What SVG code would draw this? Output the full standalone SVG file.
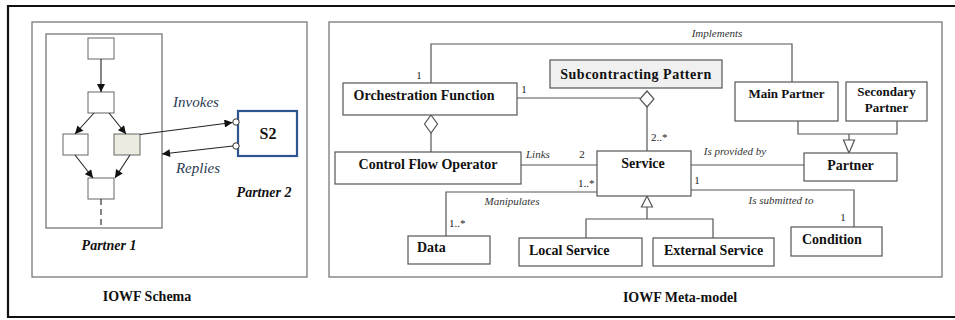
<svg xmlns="http://www.w3.org/2000/svg" width="955" height="320" viewBox="0 0 955 320" font-family="'Liberation Serif', 'Times New Roman', Times, serif">
  <defs>
    <marker id="arrow" viewBox="0 0 10 10" refX="10" refY="5" markerWidth="9" markerHeight="8" markerUnits="userSpaceOnUse" orient="auto">
      <path d="M0,0 L10,5 L0,10 Z" fill="#111"/>
    </marker>
    <style>
      text { font-family: 'Liberation Serif', 'Times New Roman', Times, serif; }
      .frame { fill: none; stroke: #111; stroke-width: 2.2; }
      .panel { fill: #fff; stroke: #777; stroke-width: 1.3; }
      .box { fill: #fff; stroke: #555; stroke-width: 1.2; }
      .shaded { fill: #f0f0f0; stroke: #555; stroke-width: 1.2; }
      .task { fill: #fff; stroke: #666; stroke-width: 1; }
      .link { fill: none; stroke: #555; stroke-width: 1.2; }
      .flow { fill: none; stroke: #222; stroke-width: 1.1; }
      .hollow { fill: #fff; stroke: #555; stroke-width: 1.2; }
      .name { font-weight: bold; font-size: 14px; fill: #111; }
      .title { font-weight: bold; font-size: 14px; fill: #111; }
      .role { font-style: italic; font-size: 11px; fill: #333; }
      .mult { font-size: 11px; fill: #222; }
      .msg { font-style: italic; font-size: 15px; fill: #2c3b52; }
      .lane { font-style: italic; font-weight: bold; font-size: 14px; fill: #111; }
    </style>
  </defs>

  <rect width="955" height="320" fill="#fff"/>

  <!-- outer frame: open on the right -->
  <path class="frame" d="M955,6 H8 V317 H955"/>

  <!-- ===== IOWF Schema ===== -->
  <g id="schema">
    <rect class="panel" x="32" y="22" width="275" height="255"/>
    <g id="partner1">
      <rect class="panel" x="46" y="34" width="116" height="194"/>
      <text class="lane" x="109" y="250" text-anchor="middle">Partner 1</text>
    </g>
    <g id="task-top"><rect class="task" x="88" y="38" width="26" height="21"/></g>
    <g id="task-split"><rect class="task" x="88" y="92" width="26" height="21"/></g>
    <g id="task-left"><rect class="task" x="63" y="134" width="25" height="21"/></g>
    <g id="task-remote"><rect class="task" x="114" y="134" width="26" height="21" style="fill:#ecebe0"/></g>
    <g id="task-join"><rect class="task" x="88" y="178" width="26" height="21"/></g>

    <g id="s2">
      <rect x="238" y="111" width="59" height="45" fill="#fff" stroke="#2e5590" stroke-width="2.2"/>
      <text class="name" x="268" y="139" text-anchor="middle" style="font-size:16px">S2</text>
      <circle cx="236" cy="122" r="3.2" fill="#fff" stroke="#333" stroke-width="1"/>
      <circle cx="236" cy="146" r="3.2" fill="#fff" stroke="#333" stroke-width="1"/>
    </g>
    <text class="lane" x="264" y="197" text-anchor="middle">Partner 2</text>

    <g id="schema-flows">
      <line class="flow" x1="101" y1="59" x2="101" y2="92" marker-end="url(#arrow)"/>
      <line class="flow" x1="94" y1="113" x2="75" y2="134" marker-end="url(#arrow)"/>
      <line class="flow" x1="109" y1="113" x2="126" y2="134" marker-end="url(#arrow)"/>
      <line class="flow" x1="75" y1="155" x2="93" y2="178" marker-end="url(#arrow)"/>
      <line class="flow" x1="130" y1="155" x2="115" y2="178" marker-end="url(#arrow)"/>
      <line class="flow" x1="101" y1="199" x2="101" y2="228" stroke-dasharray="6,4"/>
      <line class="flow" x1="140" y1="134.5" x2="232.5" y2="122.5" marker-end="url(#arrow)"/>
      <line class="flow" x1="233" y1="146" x2="162" y2="154" marker-end="url(#arrow)"/>
    </g>
    <text class="msg" x="196" y="107" text-anchor="middle">Invokes</text>
    <text class="msg" x="198" y="173" text-anchor="middle">Replies</text>

    <text class="title" x="147" y="301" text-anchor="middle">IOWF Schema</text>
  </g>

  <!-- ===== IOWF Meta-model ===== -->
  <rect class="panel" x="329" y="22" width="613" height="255"/>

  <g id="connectors">
    <!-- Implements -->
    <path class="link" d="M431,83 V44 H792 V82"/>
    <!-- Orchestration Function to Subcontracting Pattern aggregation -->
    <path class="link" d="M517,98 H640"/>
    <path class="hollow" d="M647,91 L654,99 L647,107 L640,99 Z"/>
    <path class="link" d="M647,107 V151"/>
    <!-- Control Flow Operator aggregated in Orchestration Function -->
    <path class="hollow" d="M431,115 L437.5,124 L431,133 L424.5,124 Z"/>
    <path class="link" d="M431,133 V152"/>
    <!-- Links -->
    <path class="link" d="M521,165 H597"/>
    <!-- Manipulates -->
    <path class="link" d="M597,192 H446 V236"/>
    <!-- Service specialisations -->
    <path class="hollow" d="M647,196 L652.5,207 L641.5,207 Z"/>
    <path class="link" d="M647,207 V219 M586,238 V219 H713 V238"/>
    <!-- Is provided by -->
    <path class="link" d="M691,165 H804"/>
    <!-- Is submitted to -->
    <path class="link" d="M691,190 H854 V227"/>
    <!-- Partner specialisations -->
    <path class="link" d="M798,121 V134 H897 V121 M849,134 V140"/>
    <path class="hollow" d="M849,153 L843.5,140 L854.5,140 Z"/>
  </g>

  <g id="orchestration-function">
    <rect class="box" x="343" y="83" width="174" height="32"/>
    <text class="name" x="424" y="100" text-anchor="middle">Orchestration Function</text>
  </g>
  <g id="subcontracting-pattern">
    <rect class="shaded" x="550" y="60" width="172" height="28"/>
    <text class="name" x="636" y="79" text-anchor="middle" style="letter-spacing:0.5px">Subcontracting Pattern</text>
  </g>
  <g id="main-partner">
    <rect class="box" x="735" y="82" width="103" height="39"/>
    <text class="name" x="786.5" y="98" text-anchor="middle" style="font-size:13px">Main Partner</text>
  </g>
  <g id="secondary-partner">
    <rect class="box" x="846" y="82" width="81" height="39"/>
    <text class="name" x="886.5" y="96" text-anchor="middle" style="font-size:13px">Secondary</text>
    <text class="name" x="886.5" y="112" text-anchor="middle" style="font-size:13px">Partner</text>
  </g>
  <g id="control-flow-operator">
    <rect class="box" x="335" y="152" width="186" height="32"/>
    <text class="name" x="428" y="169" text-anchor="middle">Control Flow Operator</text>
  </g>
  <g id="service">
    <rect class="box" x="597" y="151" width="94" height="45"/>
    <text class="name" x="643" y="168" text-anchor="middle">Service</text>
  </g>
  <g id="partner">
    <rect class="box" x="804" y="153" width="93" height="28"/>
    <text class="name" x="850.5" y="170" text-anchor="middle">Partner</text>
  </g>
  <g id="data">
    <rect class="box" x="408" y="236" width="82" height="28"/>
    <text class="name" x="417" y="252">Data</text>
  </g>
  <g id="local-service">
    <rect class="box" x="519" y="238" width="123" height="28"/>
    <text class="name" x="529" y="255">Local Service</text>
  </g>
  <g id="external-service">
    <rect class="box" x="653" y="238" width="121" height="28"/>
    <text class="name" x="664" y="255">External Service</text>
  </g>
  <g id="condition">
    <rect class="box" x="791" y="227" width="91" height="29"/>
    <text class="name" x="802" y="244">Condition</text>
  </g>

  <!-- role names and multiplicities -->
  <text class="role" x="717" y="37" text-anchor="middle">Implements</text>
  <text class="mult" x="419" y="79" text-anchor="middle">1</text>
  <text class="mult" x="524" y="93" text-anchor="middle">1</text>
  <text class="mult" x="651" y="141">2..*</text>
  <text class="role" x="526" y="158">Links</text>
  <text class="mult" x="582" y="158" text-anchor="middle">2</text>
  <text class="mult" x="578" y="187">1..*</text>
  <text class="role" x="512" y="205" text-anchor="middle">Manipulates</text>
  <text class="mult" x="449" y="227">1..*</text>
  <text class="role" x="735" y="155" text-anchor="middle">Is provided by</text>
  <text class="mult" x="697" y="184" text-anchor="middle">1</text>
  <text class="role" x="781" y="204" text-anchor="middle">Is submitted to</text>
  <text class="mult" x="843" y="221" text-anchor="middle">1</text>

  <text class="title" x="680" y="302" text-anchor="middle">IOWF Meta-model</text>
</svg>
